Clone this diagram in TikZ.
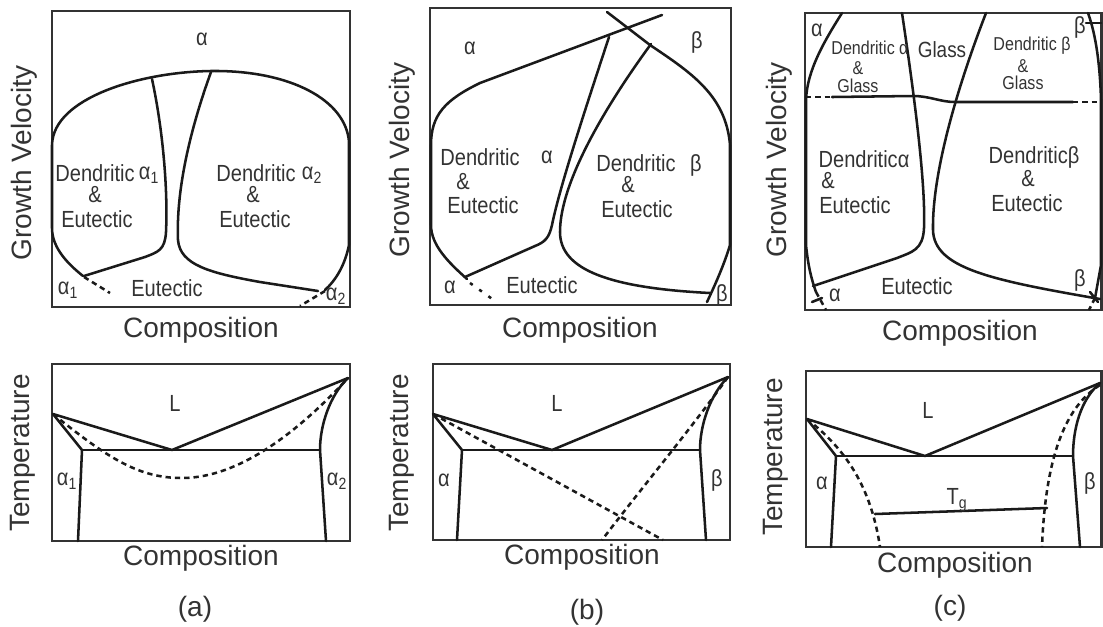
\documentclass[tikz,border=0pt]{standalone}
\usepackage{fontspec}
\setmainfont{Liberation Sans}
\newfontfamily\condfont[FakeStretch=0.86]{Liberation Sans}
\definecolor{boxgray}{HTML}{333333}
\definecolor{txtgray}{HTML}{333333}
\definecolor{ink}{HTML}{1A1A1A}
\begin{document}
\begin{tikzpicture}[x=0.75pt,y=-0.75pt,
  frame/.style={draw=boxgray,line width=1.7pt},
  curve/.style={draw=ink,line width=1.9pt,line join=round,line cap=round},
  dsh/.style={draw=ink,line width=1.9pt,dash pattern=on 4pt off 3pt},
  sparse/.style={draw=ink,line width=1.9pt,dash pattern=on 2.5pt off 6pt},
  lab/.style={font=\condfont\fontsize{17.5}{19}\selectfont,text=txtgray,inner sep=0pt},
  mid/.style={font=\condfont\fontsize{16.5}{18}\selectfont,text=txtgray,inner sep=0pt},
  small/.style={font=\condfont\fontsize{14}{16}\selectfont,text=txtgray,inner sep=0pt},
  axis/.style={font=\fontsize{21}{24}\selectfont,text=txtgray,inner sep=0pt},
  vaxis/.style={axis,rotate=90}]
\useasboundingbox (0,0) rectangle (1103,626);

%%%%%%%%%%%%%%%% (a) top
\draw[frame] (52,11) rectangle (350,307);
\draw[curve] (83,276) .. controls (68,264) and (52,248) .. (52,228) -- (52,145)
  .. controls (53,98) and (140,72) .. (211,71)
  .. controls (290,70) and (346,100) .. (349,142) -- (349,245)
  .. controls (345,265) and (336,280) .. (325,290);
\draw[dsh] (84,277) -- (110,293);
\draw[dsh] (325,291) -- (300,306);
\draw[curve] (152,79) .. controls (163,130) and (168,190) .. (166,232)
  .. controls (165,250) and (158,252) .. (145,257) -- (84,276);
\draw[curve] (211,72) .. controls (190,130) and (176,190) .. (178,240)
  .. controls (180,265) and (210,273) .. (260,282) -- (318,291);
\node[lab] (a1) at (202,39) {α};
\node[lab] (a2) at (95,173) {Dendritic};
\node[lab] (a3) at (149,175) {α\textsubscript{1}};
\node[lab] (a4) at (95,195) {\&};
\node[lab] (a5) at (97,219) {Eutectic};
\node[lab] (a6) at (256,173) {Dendritic};
\node[lab] (a7) at (312,175) {α\textsubscript{2}};
\node[lab] (a8) at (253,195) {\&};
\node[lab] (a9) at (255,219) {Eutectic};
\node[lab] (a10) at (68,290) {α\textsubscript{1}};
\node[lab] (a11) at (167,288) {Eutectic};
\node[lab] (a12) at (336,296) {α\textsubscript{2}};
\node[vaxis] (a13) at (24,163) {Growth Velocity};
\node[axis] (a14) at (201,330) {Composition};

%%%%%%%%%%%%%%%% (a) bottom
\draw[frame] (52,364) rectangle (350,541);
\draw[curve] (53,414) -- (82,450) -- (78,541);
\draw[curve] (53,414) -- (172,450) -- (348,378);
\draw[curve] (82,450) -- (320,450);
\draw[curve] (348,378) .. controls (330,395) and (320,425) .. (320,450) -- (326,541);
\draw[dsh] (53,414) .. controls (110,460) and (140,478) .. (182,478)
  .. controls (240,478) and (300,430) .. (348,378);
\node[lab] (b1) at (175,403) {L};
\node[lab] (b2) at (67,481) {α\textsubscript{1}};
\node[lab] (b3) at (337,481) {α\textsubscript{2}};
\node[vaxis] (b4) at (23,453) {Temperature};
\node[axis] (b5) at (201,558) {Composition};
\node[axis] (b6) at (195,609) {(a)};

%%%%%%%%%%%%%%%% (b) top
\draw[frame] (430,8) rectangle (731,305);
\draw[curve] (467,279) .. controls (448,262) and (431,245) .. (431,225) -- (431,145)
  .. controls (431,115) and (445,100) .. (480,83) -- (662,15);
\draw[sparse] (470,283) -- (495,301);
\draw[curve] (609,37) .. controls (590,95) and (560,185) .. (552,225)
  .. controls (549,238) and (545,242) .. (535,246) -- (465,277);
\draw[curve] (607,12) -- (650,45) .. controls (690,72) and (726,95) .. (730,145)
  -- (730,245) .. controls (724,265) and (715,285) .. (707,302);
\draw[curve] (651,44) .. controls (610,100) and (560,180) .. (560,232)
  .. controls (560,270) and (610,288) .. (710,293);
\node[lab] (c1) at (470,48) {α};
\node[lab] (c2) at (697,42) {β};
\node[lab] (c3) at (480,157) {Dendritic};
\node[lab] (c4) at (547,157) {α};
\node[lab] (c5) at (463,182) {\&};
\node[lab] (c6) at (483,205) {Eutectic};
\node[lab] (c7) at (636,163) {Dendritic};
\node[lab] (c8) at (696,165) {β};
\node[lab] (c9) at (628,185) {\&};
\node[lab] (c10) at (637,209) {Eutectic};
\node[lab] (c11) at (450,287) {α};
\node[lab] (c12) at (542,285) {Eutectic};
\node[lab] (c13) at (722,295) {β};
\node[vaxis] (c14) at (402,160) {Growth Velocity};
\node[axis] (c15) at (580,330) {Composition};

%%%%%%%%%%%%%%%% (b) bottom
\draw[frame] (433,364) rectangle (730,540);
\draw[curve] (433,414) -- (462,450) -- (457,540);
\draw[curve] (433,414) -- (552,450) -- (728,377);
\draw[curve] (462,450) -- (700,450);
\draw[curve] (728,377) .. controls (710,395) and (700,425) .. (700,450) -- (706,540);
\draw[dsh] (433,414) -- (663,540);
\draw[dsh] (728,377) .. controls (690,430) and (640,490) .. (602,540);
\node[lab] (d1) at (557,403) {L};
\node[lab] (d2) at (444,480) {α};
\node[lab] (d3) at (717,480) {β};
\node[vaxis] (d4) at (402,453) {Temperature};
\node[axis] (d5) at (582,557) {Composition};
\node[axis] (d6) at (587,612) {(b)};

%%%%%%%%%%%%%%%% (c) top
\draw[frame] (805,13) rectangle (1101.5,310);
\draw[curve] (842,13) .. controls (825,40) and (807,70) .. (806,100) -- (806,245)
  .. controls (808,265) and (811,278) .. (816,292);
\draw[dsh] (816,292) -- (826,310);
\draw[curve] (812,302) -- (822,298);
\draw[dsh] (806,97) -- (832,97);
\draw[curve] (832,97) -- (913,96) .. controls (930,96) and (940,102) .. (955,102) -- (1073,102);
\draw[dsh] (1073,102) -- (1101,102);
\draw[curve] (902,13) .. controls (912,80) and (926,180) .. (924,228)
  .. controls (923,250) and (912,252) .. (897,258) -- (813,286);
\draw[curve] (986,13) .. controls (960,80) and (932,170) .. (933,230)
  .. controls (934,268) and (990,280) .. (1100,299);
\draw[curve] (1088,13) .. controls (1096,35) and (1100,65) .. (1101,100) -- (1101,265) -- (1095,298);
\draw[dsh] (1095,298) -- (1089,310);
\draw[curve] (1090,292) -- (1098,302);
\draw[curve] (1086,23) -- (1101,23);
\node[lab] (e1) at (817,30) {α};
\node[small] (e2) at (870,48) {Dendritic α};
\node[small] (e3) at (858,68) {\&};
\node[small] (e4) at (858,86) {Glass};
\node[mid] (e5) at (942,50) {Glass};
\node[small] (e6) at (1032,46) {Dendritic β};
\node[small] (e7) at (1023,66) {\&};
\node[small] (e8) at (1023,83) {Glass};
\node[lab] (e9) at (864,159) {Dendriticα};
\node[lab] (e10) at (828,181) {\&};
\node[lab] (e11) at (855,205) {Eutectic};
\node[lab] (e12) at (1034,157) {Dendriticβ};
\node[lab] (e13) at (1028,179) {\&};
\node[lab] (e14) at (1027,203) {Eutectic};
\node[lab] (e15) at (917,286) {Eutectic};
\node[lab] (e16) at (835,295) {α};
\node[lab] (e17) at (1080,280) {β};
\node[lab] (e18) at (1080,27) {β};
\node[vaxis] (e19) at (779,160) {Growth Velocity};
\node[axis] (e20) at (960,333) {Composition};

%%%%%%%%%%%%%%%% (c) bottom
\draw[frame] (806,371) rectangle (1101.5,547);
\draw[curve] (807,419) -- (836,456) -- (831,547);
\draw[curve] (807,419) -- (925,456) -- (1100,383);
\draw[curve] (836,456) -- (1073,456);
\draw[curve] (1100,383) .. controls (1080,400) and (1073,430) .. (1073,456) -- (1080,547);
\draw[dsh] (807,419) .. controls (840,445) and (870,480) .. (880,547);
\draw[dsh] (1100,385) .. controls (1060,410) and (1045,470) .. (1042,547);
\draw[curve] (875,514) -- (1047,508);
\node[lab] (f1) at (928,410) {L};
\node[lab] (f2) at (822,483) {α};
\node[lab] (f3) at (1090,483) {β};
\node[lab] (f4) at (957,500) {T\textsubscript{g}};
\node[vaxis] (f5) at (776,457) {Temperature};
\node[axis] (f6) at (955,565) {Composition};
\node[axis] (f7) at (950,608) {(c)};
\end{tikzpicture}
\end{document}
